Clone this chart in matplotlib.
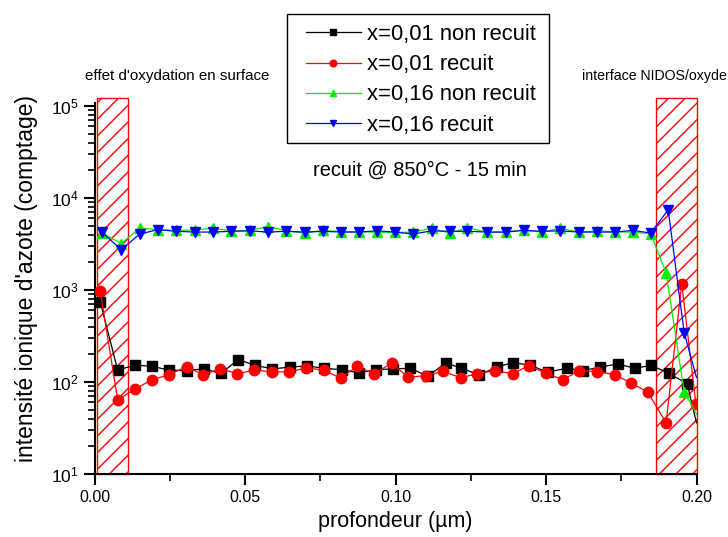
import matplotlib
matplotlib.use("Agg")
import matplotlib.pyplot as plt
from matplotlib.patches import Rectangle
from matplotlib.ticker import LogLocator, MultipleLocator, FormatStrFormatter
import numpy as np

plt.rcParams['font.family'] = ['Liberation Sans', 'DejaVu Sans']
plt.rcParams['mathtext.default'] = 'regular'
plt.rcParams['hatch.linewidth'] = 1.0

# ---------------- data ----------------
x_a = [0.0019, 0.0077, 0.0135, 0.0190, 0.0248, 0.0306, 0.0363, 0.0420, 0.0477, 0.0534,
       0.0591, 0.0649, 0.0705, 0.0763, 0.0822, 0.0878, 0.0935, 0.0991, 0.1049, 0.1107,
       0.1167, 0.1218, 0.1276, 0.1338, 0.1389, 0.1448, 0.1505, 0.1569, 0.1624, 0.1678,
       0.1738, 0.1796, 0.1850, 0.1908, 0.1969, 0.2000]
y_a = [747, 135, 153, 148, 135, 133, 139, 124, 175, 152,
       139, 145, 150, 141, 136, 126, 136, 139, 141, 116,
       161, 142, 120, 145, 163, 152, 128, 141, 133, 145,
       157, 141, 152, 124, 96, 36]

x_b = [0.0019, 0.0077, 0.0135, 0.0191, 0.0248, 0.0306, 0.0361, 0.0418, 0.0475, 0.0531,
       0.0589, 0.0646, 0.0704, 0.0761, 0.0818, 0.0872, 0.0929, 0.0987, 0.1042, 0.1101,
       0.1158, 0.1217, 0.1270, 0.1329, 0.1389, 0.1443, 0.1501, 0.1557, 0.1610, 0.1669,
       0.1729, 0.1781, 0.1838, 0.1899, 0.1951, 0.1998]
y_b = [975, 64, 84, 106, 120, 147, 120, 139, 123, 135,
       129, 129, 142, 135, 110, 148, 123, 160, 113, 117,
       131, 111, 123, 133, 123, 151, 124, 106, 133, 130,
       120, 98, 78, 36, 1170, 58]

x_c = [0.0024, 0.0089, 0.0150, 0.0210, 0.0272, 0.0333, 0.0393, 0.0455, 0.0515, 0.0576,
       0.0637, 0.0698, 0.0759, 0.0820, 0.0879, 0.0939, 0.0998, 0.1058, 0.1120, 0.1180,
       0.1239, 0.1304, 0.1366, 0.1426, 0.1487, 0.1546, 0.1609, 0.1670, 0.1729, 0.1790,
       0.1848, 0.1899, 0.1959, 0.2000]
y_c = [4200, 3200, 4720, 4530, 4450, 4500, 4700, 4400, 4450, 4900,
       4400, 4160, 4450, 4300, 4300, 4250, 4250, 4250, 4700, 4150,
       4750, 4250, 4250, 4500, 4250, 4700, 4250, 4400, 4300, 4250,
       4100, 1540, 78, 45]

x_d = [0.0024, 0.0089, 0.0150, 0.0210, 0.0272, 0.0333, 0.0393, 0.0455, 0.0515, 0.0576,
       0.0637, 0.0698, 0.0759, 0.0820, 0.0879, 0.0939, 0.0998, 0.1058, 0.1120, 0.1180,
       0.1239, 0.1304, 0.1366, 0.1426, 0.1487, 0.1546, 0.1609, 0.1670, 0.1729, 0.1790,
       0.1848, 0.1906, 0.1959, 0.2000]
y_d = [4270, 2750, 4060, 4530, 4350, 4270, 4270, 4350, 4400, 4270,
       4350, 4270, 4350, 4270, 4270, 4400, 4270, 4060, 4400, 4350,
       4350, 4270, 4270, 4450, 4350, 4400, 4270, 4270, 4270, 4450,
       4160, 7450, 345, 112]

labels = ["x=0,01 non recuit", "x=0,01 recuit", "x=0,16 non recuit", "x=0,16 recuit"]
zones = [(0.0008, 0.0111), (0.1865, 0.2003)]

# ---------------- figure ----------------
W, H = 728, 537
fig = plt.figure(figsize=(W / 100, H / 100), dpi=100)
ax = fig.add_axes([94.5 / W, 1 - 474 / H, (696.5 - 94.5) / W, (474 - 103) / H])
ax.set_yscale('log')
ax.set_xlim(0, 0.2)
ax.set_ylim(10, 1.08e5)

for x0, x1 in zones:
    ax.add_patch(Rectangle((x0, 10), x1 - x0, 1.23e5 - 10, facecolor='none',
                           edgecolor='red', hatch='//', linewidth=1.0,
                           clip_on=False, zorder=1))

styles = [
    (x_a, y_a, 'black', 's', 7.0),
    (x_b, y_b, 'red', 'o', 7.5),
    (x_c, y_c, '#00ee00', '^', 7.5),
    (x_d, y_d, 'blue', 'v', 7.5),
]
handles = []
for (xs, ys, col, mk, ms), lab in zip(styles, labels):
    n = len(xs)
    mev = list(range(n - 1)) if col != 'red' else list(range(n))
    h, = ax.plot(xs, ys, color=col, marker=mk, markersize=ms, linewidth=0.9,
                 markerfacecolor=col, markeredgecolor=col, markevery=mev,
                 label=lab, zorder=3)
    handles.append(h)

for s in ['top', 'right']:
    ax.spines[s].set_visible(False)
for s in ['left', 'bottom']:
    ax.spines[s].set_linewidth(1.5)

ax.yaxis.set_major_locator(LogLocator(base=10, numticks=10))
ax.yaxis.set_minor_locator(LogLocator(base=10, subs=np.arange(2, 10), numticks=10))
ax.xaxis.set_major_locator(MultipleLocator(0.05))
ax.xaxis.set_minor_locator(MultipleLocator(0.025))
ax.xaxis.set_major_formatter(FormatStrFormatter('%.2f'))
ax.tick_params(which='major', direction='out', length=8, width=1.5, labelsize=11.5)
ax.tick_params(which='minor', direction='out', length=5, width=1.2)
ax.tick_params(axis='y', which='major', labelsize=12.5)

ax.set_xlabel("profondeur (µm)", fontsize=15.5)
ax.set_ylabel("intensité ionique d'azote (comptage)", fontsize=16.5)
ax.xaxis.set_label_coords(0.5, -(511 - 474) / (474 - 103))
ax.yaxis.set_label_coords((38 - 94.5) / (696.5 - 94.5), (474 - 279) / (474 - 103))

fig.text(85 / W, 1 - 76 / H, "effet d'oxydation en surface", fontsize=10.9, va='center', ha='left')
fig.text(727 / W, 1 - 76 / H, "interface NIDOS/oxyde", fontsize=10.2, va='center', ha='right')
fig.text(420 / W, 1 - 170 / H, "recuit @ 850°C - 15 min", fontsize=14.4, va='center', ha='center')

# legend box frame drawn separately
fig.patches.append(Rectangle((287 / W, 1 - 143 / H), (549 - 287) / W, (143 - 14) / H,
                             transform=fig.transFigure, facecolor='white',
                             edgecolor='black', linewidth=1.0, zorder=4))
leg = fig.legend(handles=handles, labels=labels, loc='upper left',
                 bbox_to_anchor=(306 / W, 1 - 24 / H), fontsize=15.8,
                 frameon=False, handlelength=2.5, labelspacing=0.42,
                 markerscale=0.65, borderpad=0, handletextpad=0.3,
                 borderaxespad=0)
leg.set_zorder(5)

fig.savefig("out.png", dpi=100)
